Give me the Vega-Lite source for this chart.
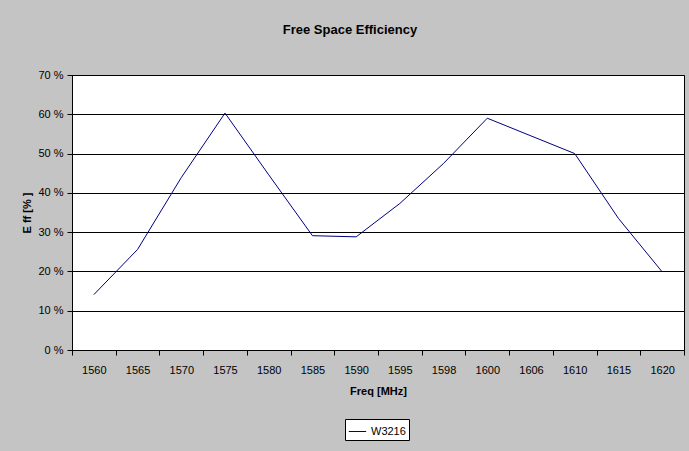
{
  "$schema": "https://vega.github.io/schema/vega-lite/v6.json",
  "width": 612,
  "height": 275,
  "autosize": {"type": "none"},
  "padding": {"left": 72, "top": 75, "right": 5, "bottom": 101},
  "background": "#c4c4c4",
  "title": {
    "text": "Free Space Efficiency",
    "font": "Liberation Sans",
    "fontSize": 13,
    "fontWeight": "bold",
    "color": "black",
    "anchor": "middle",
    "offset": 32,
    "dx": -28
  },
  "config": {
    "font": "Liberation Sans",
    "view": {"fill": "white", "stroke": "black", "strokeWidth": 1},
    "axis": {
      "labelFont": "Liberation Sans",
      "labelFontSize": 11,
      "labelColor": "black",
      "titleFont": "Liberation Sans",
      "titleFontSize": 11,
      "titleFontWeight": "bold",
      "titleColor": "black",
      "domainColor": "black",
      "tickColor": "black",
      "tickSize": 5
    }
  },
  "data": {
    "values": [
      {"freq": "1560", "eff": 14.1, "series": "W3216"},
      {"freq": "1565", "eff": 25.6, "series": "W3216"},
      {"freq": "1570", "eff": 43.9, "series": "W3216"},
      {"freq": "1575", "eff": 60.3, "series": "W3216"},
      {"freq": "1580", "eff": 44.6, "series": "W3216"},
      {"freq": "1585", "eff": 29.1, "series": "W3216"},
      {"freq": "1590", "eff": 28.8, "series": "W3216"},
      {"freq": "1595", "eff": 37.3, "series": "W3216"},
      {"freq": "1598", "eff": 47.5, "series": "W3216"},
      {"freq": "1600", "eff": 59.0, "series": "W3216"},
      {"freq": "1606", "eff": 54.5, "series": "W3216"},
      {"freq": "1610", "eff": 50.0, "series": "W3216"},
      {"freq": "1615", "eff": 33.5, "series": "W3216"},
      {"freq": "1620", "eff": 19.9, "series": "W3216"}
    ]
  },
  "mark": {"type": "line", "strokeWidth": 1},
  "encoding": {
    "x": {
      "field": "freq",
      "type": "ordinal",
      "sort": null,
      "scale": {"paddingInner": 0, "paddingOuter": 0},
      "axis": {
        "title": "Freq [MHz]",
        "labelAngle": 0,
        "tickBand": "extent",
        "labelPadding": 9,
        "titlePadding": 10,
        "grid": false
      }
    },
    "y": {
      "field": "eff",
      "type": "quantitative",
      "scale": {"domain": [0, 70], "nice": false},
      "axis": {
        "title": "E ff  [% ]",
        "values": [0, 10, 20, 30, 40, 50, 60, 70],
        "labelExpr": "datum.value + ' %'",
        "grid": true,
        "gridColor": "black",
        "gridOpacity": 1,
        "labelPadding": 4,
        "titlePadding": 5
      }
    },
    "color": {
      "field": "series",
      "type": "nominal",
      "scale": {"range": ["#000080"]},
      "legend": {
        "title": null,
        "orient": "none",
        "legendX": 273,
        "legendY": 344,
        "fillColor": "white",
        "strokeColor": "black",
        "padding": 3,
        "symbolType": "stroke",
        "symbolSize": 300,
        "symbolStrokeWidth": 1,
        "labelFont": "Liberation Sans",
        "labelFontSize": 11,
        "labelColor": "black"
      }
    }
  }
}
